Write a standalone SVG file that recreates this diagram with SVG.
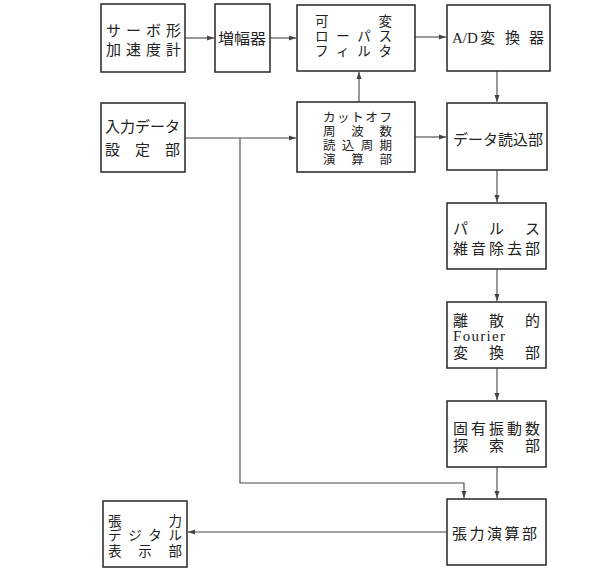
<svg xmlns="http://www.w3.org/2000/svg" width="600" height="573" viewBox="0 0 600 573">
<style>
.box{fill:#fff;stroke:#333;stroke-width:1.6}
.t{font-family:"Liberation Serif","Noto Sans CJK JP",serif;font-size:15px;fill:#222}
.s{font-size:13.5px}
.xs{font-size:12.5px}
.c{fill:none;stroke:#444;stroke-width:1.1}
</style>
<defs>
<marker id="ah" markerWidth="8" markerHeight="6" refX="7" refY="3" orient="auto" markerUnits="userSpaceOnUse">
<path d="M0,0.5 L7,3 L0,5.5 Z" fill="#444"/>
</marker>
</defs>
<rect width="600" height="573" fill="#fff"/>
<g id="connectors">
<path class="c" d="M185,38 H214" marker-end="url(#ah)"/>
<path class="c" d="M270,38 H296" marker-end="url(#ah)"/>
<path class="c" d="M415,37 H446" marker-end="url(#ah)"/>
<path class="c" d="M497,71 V102" marker-end="url(#ah)"/>
<path class="c" d="M359,102 V72" marker-end="url(#ah)"/>
<path class="c" d="M185,138 H296" marker-end="url(#ah)"/>
<path class="c" d="M415,137 H446" marker-end="url(#ah)"/>
<path class="c" d="M497,170 V202" marker-end="url(#ah)"/>
<path class="c" d="M497,269 V301" marker-end="url(#ah)"/>
<path class="c" d="M497,368 V400" marker-end="url(#ah)"/>
<path class="c" d="M497,467 V498" marker-end="url(#ah)"/>
<path class="c" d="M240,138 V483 H464 V498" marker-end="url(#ah)"/>
<path class="c" d="M447,532 H188" marker-end="url(#ah)"/>
</g>
<g id="n1"><rect class="box" x="101" y="4" width="84" height="68"/>
<text class="t" x="106" y="36" textLength="75" lengthAdjust="spacing">サーボ形</text>
<text class="t" x="106" y="55" textLength="75" lengthAdjust="spacing">加速度計</text></g>
<g id="n2"><rect class="box" x="215" y="4" width="55" height="68"/>
<text class="t" x="218" y="44" textLength="48" lengthAdjust="spacingAndGlyphs">増幅器</text></g>
<g id="n3"><rect class="box" x="297" y="5" width="118" height="66"/>
<text class="t s" x="315" y="26" textLength="77" lengthAdjust="spacing">可変</text>
<text class="t s" x="315" y="41" textLength="77" lengthAdjust="spacing">ローパス</text>
<text class="t s" x="315" y="56" textLength="77" lengthAdjust="spacing">フィルタ</text></g>
<g id="n4"><rect class="box" x="447" y="5" width="103" height="66"/>
<text class="t" x="452" y="43">A/D<tspan x="480">変</tspan><tspan x="505">換</tspan><tspan x="529">器</tspan></text></g>
<g id="n5"><rect class="box" x="101" y="103" width="84" height="69"/>
<text class="t" x="105" y="132" textLength="75" lengthAdjust="spacingAndGlyphs">入力データ</text>
<text class="t" x="105" y="155" textLength="75" lengthAdjust="spacing">設定部</text></g>
<g id="n6"><rect class="box" x="297" y="102" width="118" height="70"/>
<text class="t xs" x="323" y="122" textLength="69" lengthAdjust="spacing">カットオフ</text>
<text class="t xs" x="323" y="136" textLength="69" lengthAdjust="spacing">周波数</text>
<text class="t xs" x="323" y="150" textLength="69" lengthAdjust="spacing">読込周期</text>
<text class="t xs" x="323" y="164" textLength="69" lengthAdjust="spacing">演算部</text></g>
<g id="n7"><rect class="box" x="447" y="103" width="100" height="67"/>
<text class="t" x="453" y="145" textLength="90" lengthAdjust="spacing">データ読込部</text></g>
<g id="n8"><rect class="box" x="447" y="203" width="99" height="66"/>
<text class="t" x="453" y="234" textLength="87" lengthAdjust="spacing">パルス</text>
<text class="t" x="453" y="254" textLength="87" lengthAdjust="spacing">雑音除去部</text></g>
<g id="n9"><rect class="box" x="447" y="302" width="99" height="66"/>
<text class="t" x="453" y="326" textLength="87" lengthAdjust="spacing">離散的</text>
<text class="t" x="453" y="341" textLength="52" lengthAdjust="spacing">Fourier</text>
<text class="t" x="453" y="358" textLength="87" lengthAdjust="spacing">変換部</text></g>
<g id="n10"><rect class="box" x="447" y="401" width="99" height="66"/>
<text class="t" x="453" y="434" textLength="87" lengthAdjust="spacing">固有振動数</text>
<text class="t" x="453" y="451" textLength="87" lengthAdjust="spacing">探索部</text></g>
<g id="n11"><rect class="box" x="447" y="499" width="99" height="66"/>
<text class="t" x="452" y="539" textLength="85" lengthAdjust="spacing">張力演算部</text></g>
<g id="n12"><rect class="box" x="103" y="501" width="84" height="66"/>
<text class="t s" x="108" y="526" textLength="74" lengthAdjust="spacing">張力</text>
<text class="t s" x="108" y="540" textLength="74" lengthAdjust="spacing">デジタル</text>
<text class="t s" x="108" y="556" textLength="74" lengthAdjust="spacing">表示部</text></g>
</svg>
